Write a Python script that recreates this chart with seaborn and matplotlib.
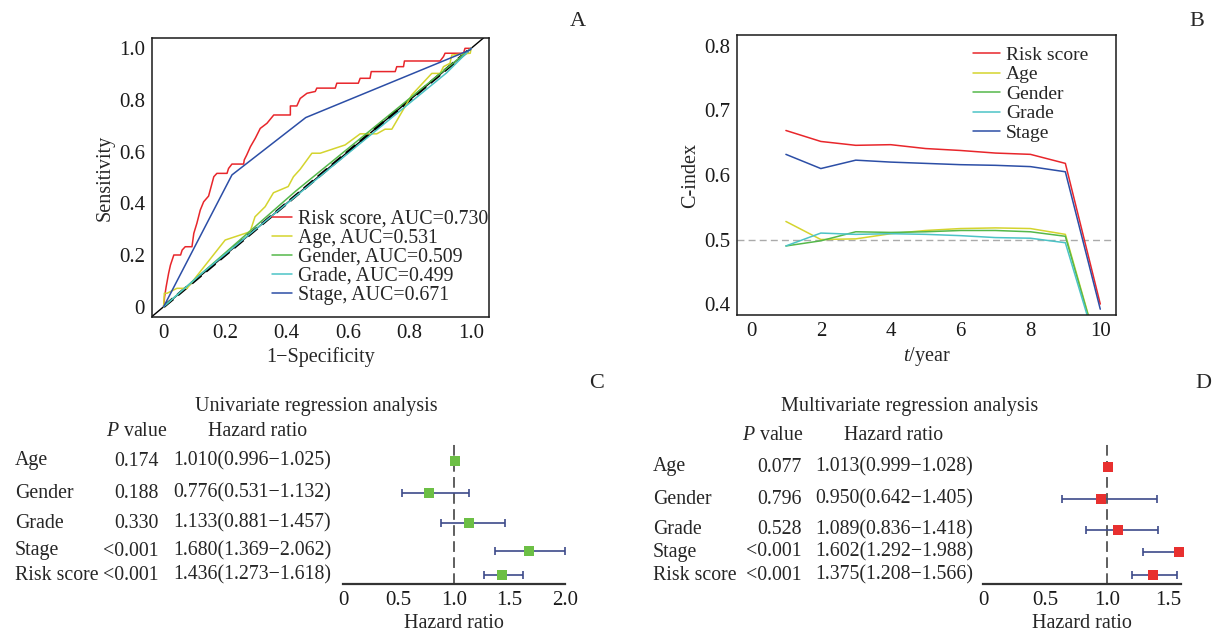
import numpy as np
import matplotlib
matplotlib.use('Agg')
import matplotlib.pyplot as plt
import matplotlib.transforms as mtransforms
import seaborn as sns

################ DATA ################

names = ['Risk score', 'Age', 'Gender', 'Grade', 'Stage']
auc_values = ['0.730', '0.531', '0.509', '0.499', '0.671']
line_colors = ['#e8262b', '#d4d42e', '#55b84a', '#4cc3c6', '#2c4ea6']

# ROC curves: 1-specificity / sensitivity
risk_fpr = [0, 0.003, 0.008, 0.016, 0.022, 0.033, 0.055, 0.06, 0.07, 0.092, 0.098, 0.108,
            0.119, 0.13, 0.146, 0.163, 0.173, 0.206, 0.211, 0.222, 0.26, 0.262, 0.27, 0.282,
            0.298, 0.314, 0.336, 0.358, 0.412, 0.412, 0.433, 0.444, 0.466, 0.493, 0.498,
            0.558, 0.563, 0.633, 0.639, 0.671, 0.675, 0.753, 0.758, 0.78, 0.783, 0.899,
            0.91, 0.915, 0.975, 0.98, 1.0]
risk_tpr = [0, 0.039, 0.077, 0.129, 0.161, 0.2, 0.2, 0.219, 0.232, 0.232, 0.284, 0.323,
            0.374, 0.406, 0.428, 0.503, 0.516, 0.516, 0.535, 0.552, 0.552, 0.568, 0.587, 0.619,
            0.652, 0.69, 0.71, 0.742, 0.742, 0.777, 0.777, 0.806, 0.826, 0.833, 0.846,
            0.846, 0.865, 0.865, 0.884, 0.884, 0.91, 0.91, 0.929, 0.929, 0.951, 0.951,
            0.968, 0.981, 0.981, 1.0, 1.0]
age_fpr = [0, 0.002, 0.011, 0.043, 0.076, 0.2, 0.281, 0.297, 0.33, 0.357, 0.405, 0.422, 0.444,
           0.482, 0.509, 0.59, 0.639, 0.693, 0.72, 0.742, 0.769, 0.791, 0.807, 0.872, 0.899,
           0.91, 0.931, 0.937, 0.997, 1.0]
age_tpr = [0, 0.052, 0.052, 0.071, 0.071, 0.258, 0.29, 0.348, 0.387, 0.441, 0.465, 0.503, 0.532,
           0.594, 0.594, 0.626, 0.669, 0.669, 0.687, 0.687, 0.742, 0.787, 0.82, 0.903, 0.903,
           0.929, 0.942, 0.974, 0.981, 1.0]
gender_fpr = [0, 0.43, 1.0]
gender_tpr = [0, 0.448, 1.0]
grade_fpr = [0, 0.12, 0.55, 0.92, 1.0]
grade_tpr = [0, 0.125, 0.545, 0.905, 1.0]
stage_fpr = [0, 0.222, 0.462, 0.997, 1.0]
stage_tpr = [0, 0.51, 0.732, 0.994, 1.0]

# C-index over time
years = [1, 2, 3, 4, 5, 6, 7, 8, 9, 10]
cidx_risk = [0.669, 0.652, 0.646, 0.647, 0.641, 0.638, 0.634, 0.632, 0.618, 0.400]
cidx_age = [0.528, 0.500, 0.501, 0.509, 0.514, 0.517, 0.518, 0.517, 0.508, 0.318]
cidx_gender = [0.490, 0.498, 0.512, 0.511, 0.512, 0.514, 0.514, 0.512, 0.505, 0.317]
cidx_grade = [0.490, 0.510, 0.508, 0.509, 0.508, 0.506, 0.503, 0.502, 0.495, 0.315]
cidx_stage = [0.632, 0.610, 0.623, 0.620, 0.618, 0.616, 0.615, 0.613, 0.605, 0.392]

# Cox regression
cox_vars = ['Age', 'Gender', 'Grade', 'Stage', 'Risk score']
uni_p = ['0.174', '0.188', '0.330', '<0.001', '<0.001']
uni_hr = [1.010, 0.776, 1.133, 1.680, 1.436]
uni_lo = [0.996, 0.531, 0.881, 1.369, 1.273]
uni_hi = [1.025, 1.132, 1.457, 2.062, 1.618]
multi_p = ['0.077', '0.796', '0.528', '<0.001', '<0.001']
multi_hr = [1.013, 0.950, 1.089, 1.602, 1.375]
multi_lo = [0.999, 0.642, 0.836, 1.292, 1.208]
multi_hi = [1.028, 1.405, 1.418, 1.988, 1.566]

################ STYLE ################

sns.set_theme(style='white')
plt.rcParams['font.family'] = ['Liberation Serif', 'DejaVu Serif']
plt.rcParams['mathtext.fontset'] = 'custom'
plt.rcParams['mathtext.rm'] = 'Liberation Serif'
plt.rcParams['mathtext.it'] = 'Liberation Serif:italic'
plt.rcParams['axes.edgecolor'] = '#1a1a1a'
plt.rcParams['axes.linewidth'] = 1.1

W, H = 1215, 635
fig = plt.figure(figsize=(W / 100, H / 100), dpi=100)

TICK_FS = 15
LABEL_FS = 14.5
TABLE_FS = 14.3


def px_box(left, top, right, bottom):
    return [left / W, 1 - bottom / H, (right - left) / W, (bottom - top) / H]


def ftext(x, y, s, **kw):
    fig.text(x / W, 1 - y / H, s, **kw)


################ A: ROC ################

ax_a = fig.add_axes(px_box(152, 38, 489, 317))
ax_a.axline((0, 0), (1, 1), color='black', lw=1.0, zorder=1)
ax_a.plot([0, 1], [0, 1], color='black', lw=2.2, ls=(0, (4, 2)), zorder=1)

roc_fpr = [risk_fpr, age_fpr, gender_fpr, grade_fpr, stage_fpr]
roc_tpr = [risk_tpr, age_tpr, gender_tpr, grade_tpr, stage_tpr]
for name, auc, fpr, tpr, col in zip(names, auc_values, roc_fpr, roc_tpr, line_colors):
    sns.lineplot(x=fpr, y=tpr, ax=ax_a, color=col, lw=1.1, estimator=None, sort=False,
                 label=f'{name}, AUC={auc}', zorder=2)

ax_a.set_xlim(-0.038, 1.058)
ax_a.set_ylim(-0.04, 1.04)
ticks = [0, 0.2, 0.4, 0.6, 0.8, 1.0]
tick_lbls = ['0', '0.2', '0.4', '0.6', '0.8', '1.0']
ax_a.set_xticks(ticks, tick_lbls)
ax_a.set_yticks(ticks, tick_lbls)
ax_a.tick_params(direction='in', length=5, width=1, labelsize=TICK_FS, pad=5, colors='#1a1a1a')
ax_a.set_xlabel('1\u2212Specificity', fontsize=LABEL_FS, labelpad=3)
ax_a.set_ylabel('Sensitivity', fontsize=LABEL_FS, labelpad=3)
ax_a.legend(loc='upper left', bbox_to_anchor=(0.356, 0.385), frameon=False, fontsize=14.3,
            handlelength=1.0, handletextpad=0.3, labelspacing=0.0, borderpad=0,
            borderaxespad=0)

################ B: C-index ################

ax_b = fig.add_axes(px_box(737, 35, 1116, 315))
ax_b.axhline(0.5, color='#aaaaaa', lw=1.0, ls=(0, (5, 3)), zorder=1)
cidx = [cidx_risk, cidx_age, cidx_gender, cidx_grade, cidx_stage]
for name, vals, col in zip(names, cidx, line_colors):
    sns.lineplot(x=years, y=vals, ax=ax_b, color=col, lw=1.1, label=name, zorder=2)

ax_b.set_xlim(-0.4, 10.45)
ax_b.set_ylim(0.383, 0.817)
ax_b.set_xticks([0, 2, 4, 6, 8, 10])
ax_b.set_yticks([0.4, 0.5, 0.6, 0.7, 0.8], ['0.4', '0.5', '0.6', '0.7', '0.8'])
ax_b.tick_params(direction='in', length=5.5, width=1, labelsize=TICK_FS, pad=5, colors='#1a1a1a')
ax_b.set_xlabel('$t$/year', fontsize=LABEL_FS, labelpad=3)
ax_b.set_ylabel('C-index', fontsize=LABEL_FS, labelpad=3)
ax_b.legend(loc='upper left', bbox_to_anchor=(0.623, 0.96), frameon=False, fontsize=14,
            handlelength=1.4, handletextpad=0.3, labelspacing=0.1, borderpad=0,
            borderaxespad=0)

################ C / D: forest plots ################


def forest(box, xmax, xticks, rows, hr, lo, hi, pvals, color, title, title_xy,
           head_p, head_hr, col_name, col_p, col_hr):
    ax = fig.add_axes(px_box(*box))
    ax.set_xlim(0, xmax)
    ax.set_ylim(box[3], box[1])
    hr = np.array(hr)
    lo = np.array(lo)
    # CI drawn up to the axis end, as in the original figure
    hi_draw = np.minimum(np.array(hi), xmax)
    mid = (lo + hi_draw) / 2
    ax.axvline(1.0, ymin=0, ymax=(box[3] - 443) / (box[3] - box[1]), color='#333333',
               lw=1.1, dashes=(7, 3.5), zorder=1)
    ax.errorbar(mid, rows, xerr=(hi_draw - lo) / 2, fmt='none', ecolor='#3d4a8a',
                elinewidth=1.2, capsize=3, capthick=1.2, clip_on=False, zorder=2)
    sns.scatterplot(x=np.minimum(hr, xmax - 0.02), y=rows, ax=ax, marker='s', color=color,
                    s=55, linewidth=0, zorder=3, clip_on=False)
    for s in ['left', 'right', 'top']:
        ax.spines[s].set_visible(False)
    ax.spines['bottom'].set_linewidth(1.6)
    ax.spines['bottom'].set_color('#333333')
    ax.set_yticks([])
    ax.set_xticks(xticks, ['0' if t == 0 else f'{t:.1f}' for t in xticks])
    ax.tick_params(axis='x', direction='in', length=5, width=1.3, labelsize=TICK_FS, pad=5,
                   colors='#333333')
    ax.tick_params(axis='x', labelcolor='#1a1a1a')
    ax.set_xlabel('Hazard ratio', fontsize=LABEL_FS, labelpad=3)

    trans = mtransforms.blended_transform_factory(fig.transFigure, ax.transData)
    for name, p, h, l, u, y in zip(cox_vars, pvals, hr, lo, hi, rows):
        ax.text(col_name / W, y, name, transform=trans, ha='left', va='center',
                fontsize=TABLE_FS)
        ax.text(col_p / W, y, p, transform=trans, ha='right', va='center', fontsize=TABLE_FS)
        ax.text(col_hr / W, y, f'{h:.3f}({l:.3f}\u2212{u:.3f})', transform=trans,
                ha='left', va='center', fontsize=TABLE_FS)
    ftext(*title_xy, title, ha='center', va='center', fontsize=14.5)
    ftext(*head_p, '$P$ value', ha='center', va='center', fontsize=TABLE_FS)
    ftext(*head_hr, 'Hazard ratio', ha='center', va='center', fontsize=TABLE_FS)
    return ax


ax_c = forest((343, 440, 565, 584), 2.0, [0, 0.5, 1.0, 1.5, 2.0],
              [461, 493, 523, 551, 575], uni_hr, uni_lo, uni_hi, uni_p, '#6cbf45',
              'Univariate regression analysis', (316, 406), (137, 431), (258, 431),
              15, 159, 173)
ax_d = forest((983, 440, 1181, 584), 1.6, [0, 0.5, 1.0, 1.5],
              [467, 499, 530, 552, 575], multi_hr, multi_lo, multi_hi, multi_p, '#e8302f',
              'Multivariate regression analysis', (910, 406), (773, 436), (894, 436),
              653, 802, 815)

################ PANEL LETTERS ################

for letter, xy in zip(['A', 'B', 'C', 'D'], [(578, 22), (1197, 22), (597, 383), (1203, 383)]):
    ftext(*xy, letter, ha='center', va='center', fontsize=16)

fig.savefig('out.png', dpi=100)
